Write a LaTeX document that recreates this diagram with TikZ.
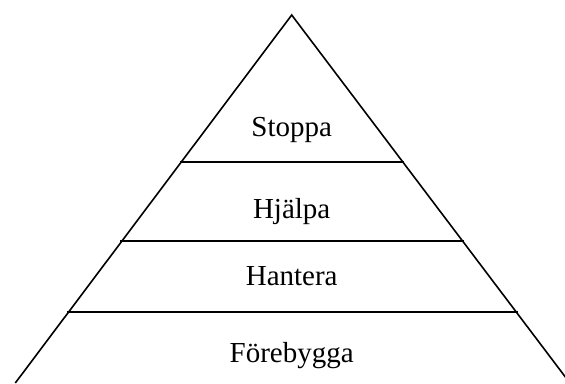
\documentclass[tikz,border=0pt]{standalone}
\usepackage{fontspec}
\setmainfont{Liberation Serif}
\usetikzlibrary{calc}
\tikzset{
  edge/.style={line width=1.6pt, black},
  level/.style={line width=1.6pt, black, shorten <=-1.5pt, shorten >=-1.5pt},
  tier/.style={font=\fontsize{29}{31}\selectfont, inner sep=0pt, anchor=base}
}
\begin{document}
\begin{tikzpicture}[x=1pt,y=-1pt]
  \useasboundingbox (0,0) rectangle (565,383);
  \clip (0,0) rectangle (565,383);
  \coordinate (apex) at (291.7,15);
  \coordinate (bl) at (15.3,383);
  \coordinate (br) at (569.9,383);

  \draw[edge] (bl) -- (apex) -- (br);

  % level lines
  \foreach \t/\name in {0.3995/one,0.614/two,0.807/three}{
    \draw[level] ($(apex)!\t!(bl)$) -- ($(apex)!\t!(br)$);
  }

  \node[tier] (stoppa) at (291.7,136) {Stoppa};
  \node[tier] (hjalpa) at (291.7,218) {Hjälpa};
  \node[tier] (hantera) at (291.7,285) {Hantera};
  \node[tier] (forebygga) at (291.7,362) {Förebygga};
\end{tikzpicture}
\end{document}
